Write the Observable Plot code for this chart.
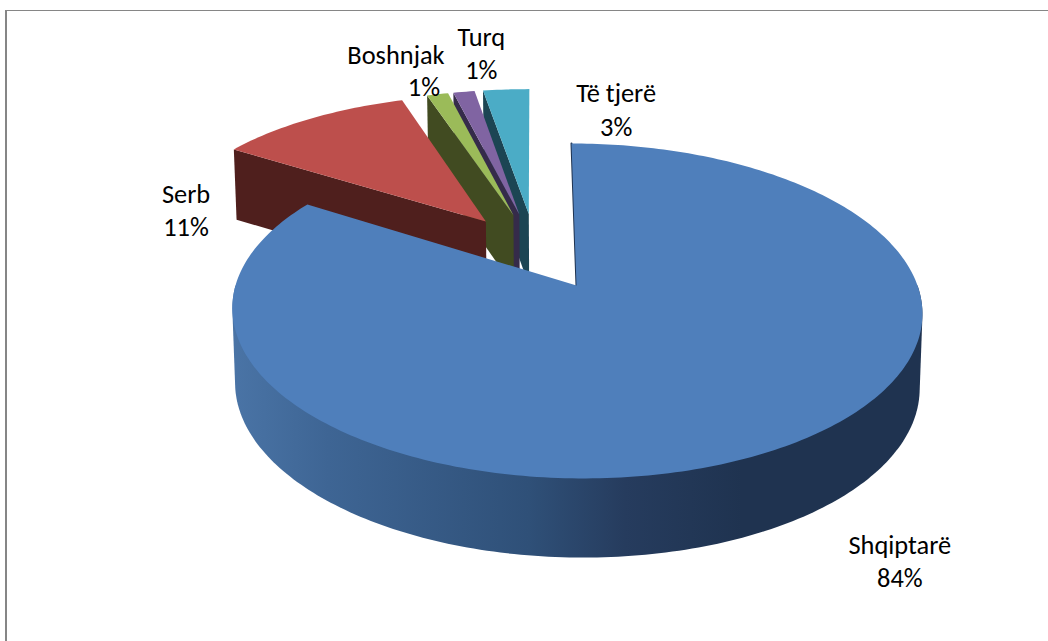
<!DOCTYPE html>
<html>
<head>
<meta charset="utf-8">
<script src="https://cdn.jsdelivr.net/npm/d3@7"></script>
<script src="https://cdn.jsdelivr.net/npm/@observablehq/plot@0.6"></script>
<style>
  html, body { margin: 0; padding: 0; background: #fff; overflow: hidden; }
  #chart { position: absolute; left: 0; top: 0; width: 1048px; height: 641px; }
  #frame { position: absolute; left: 5px; top: 10px; right: 0; bottom: 0;
           border-top: 1px solid #868686; border-left: 2px solid #868686; }
  #chart svg { position: absolute; left: 0; top: 0; background: transparent; }
</style>
</head>
<body>
<div id="chart"><div id="frame"></div></div>
<script>
// Data
const categories = ["Shqiptarë", "Serb", "Boshnjak", "Turq", "Të tjerë"];
const shares = [84, 11, 1.2, 1.2, 2.6];

// Styles
const topColors  = ["#4f7fbb", "#bd4f4c", "#9bbb59", "#8064a2", "#4bacc6"];
const wallColors = ["#1f3350", "#4f1f1d", "#414b21", "#352b4a", "#1c4553"];
const gradientStops = [[0, "#4a74a6"], [0.14, "#3e6594"], [0.43, "#2f5078"], [0.57, "#263c5e"], [0.74, "#1f3350"], [1, "#1f3350"]];

// Label offsets (px) from the rim midpoint of each slice
const nameOffsets = [[128, 95], [-124.5, 76], [-41.6, -39], [17.4, -54], [110, 4]];
const pctOffsets  = [[128, 128], [-124.5, 109], [-13.6, -7], [17.4, -21], [110, 38]];

// 3D view parameters
const explode = 0.25, persp = 0.152, widthPersp = 0.135, skew = 0.0169;
const baseScaleX = 0.992, baseScaleY = 1.027, baseDrop = 0.452;

const dir = deg => {
  const a = deg * Math.PI / 180;
  return [Math.sin(a), -Math.cos(a)];
};

const total = d3.sum(shares);
let run = 0;
const slices = shares.map((s, i) => {
  const start = run / total * 360;
  run += s;
  const end = run / total * 360;
  return {i, name: categories[i], share: s, start, end, mid: (start + end) / 2};
});
const shift = dir(slices[0].mid).map(d => d * explode);

const project = (u, v, base, kx) => {
  const X = (u + skew * v) / (1 - kx * v), Y = v / (1 - persp * v);
  return base ? {x: X * baseScaleX, y: Y * baseScaleY + baseDrop} : {x: X, y: Y};
};
const apexOf = s => {
  const d = dir(s.mid);
  return [d[0] * explode - shift[0], d[1] * explode - shift[1]];
};
const kxOf = s => s.i === 0 ? persp : widthPersp;
const rimPoint = (s, deg, base) => {
  const a = apexOf(s), d = dir(deg);
  return project(a[0] + d[0], a[1] + d[1], base, kxOf(s));
};
const apexPoint = (s, base) => {
  const a = apexOf(s);
  return project(a[0], a[1], base, kxOf(s));
};
const arc = (s, base, from = s.start, to = s.end) => {
  const n = Math.max(2, Math.ceil((to - from)));
  return d3.range(n + 1).map(k => rimPoint(s, from + (to - from) * k / n, base));
};
const topFace = s => [apexPoint(s, false), ...arc(s, false)];
const startWall = s => [apexPoint(s, false), rimPoint(s, s.start, false), rimPoint(s, s.start, true), apexPoint(s, true)];

const poly = (pts, fill) => Plot.line(pts, {x: "x", y: "y", fill, stroke: "none", curve: "linear"});

const marks = [];
// gradient definition
marks.push((index, {x}) => {
  const defs = d3.create("svg:defs");
  const g = defs.append("linearGradient").attr("id", "blueWall")
    .attr("gradientUnits", "userSpaceOnUse")
    .attr("x1", x(-1.01)).attr("x2", x(1.01)).attr("y1", 0).attr("y2", 0);
  gradientStops.forEach(([o, c]) => g.append("stop").attr("offset", o).attr("stop-color", c));
  return defs.node();
});

// paint from the back to the front
[4, 3, 2, 1].forEach(i => {
  const s = slices[i];
  marks.push(poly(startWall(s), wallColors[i]));
  marks.push(poly(topFace(s), topColors[i]));
});
const blue = slices[0];
// the visible front wall is the silhouette of the front half of both rims
const wallPts = [...arc(blue, false, 90, 270), ...arc(blue, true, 90, 270)];
const blueWall = d3.polygonHull(wallPts.map(p => [p.x, p.y])).map(([x, y]) => ({x, y}));
blueWall.push(blueWall[0]);
marks.push(poly(blueWall, "url(#blueWall)"));
marks.push(Plot.line([apexPoint(blue, false), rimPoint(blue, 0, false)],
  {x: "x", y: "y", stroke: wallColors[0], strokeWidth: 2}));
marks.push(poly(topFace(blue), topColors[0]));

// labels
const textStyle = {fontFamily: "Carlito, Lato, sans-serif", fontSize: 26.4, fill: "#000", textAnchor: "middle", lineAnchor: "middle"};
slices.forEach(s => {
  const p = rimPoint(s, s.mid, false);
  marks.push(Plot.text([p], {x: "x", y: "y", text: () => s.name, dx: nameOffsets[s.i][0], dy: nameOffsets[s.i][1], ...textStyle}));
  marks.push(Plot.text([p], {x: "x", y: "y", text: () => Math.round(s.share) + "%", dx: pctOffsets[s.i][0], dy: pctOffsets[s.i][1], ...textStyle}));
});

const chart = Plot.plot({
  width: 1048,
  height: 641,
  margin: 0,
  x: {domain: [-1, 1], range: [235, 917], axis: null},
  y: {domain: [-1, 1], range: [121.4, 448.6], axis: null},
  marks
});
document.getElementById("chart").appendChild(chart);
</script>
</body>
</html>
